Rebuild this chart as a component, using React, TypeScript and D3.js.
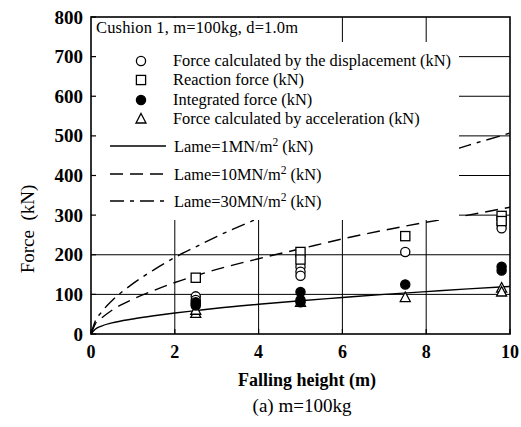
import React from "react";
import * as d3 from "d3";

// ---- data ----
const xTicks = [0, 2, 4, 6, 8, 10];
const yTicks = [0, 100, 200, 300, 400, 500, 600, 700, 800];

// measured points: [height m, force kN]
const dispForce: [number, number][] = [
  [2.5, 95], [2.5, 86], [5, 170], [5, 157], [5, 147], [7.5, 207], [9.8, 278], [9.8, 267],
];
const reactionForce: [number, number][] = [
  [2.5, 142], [5, 207], [5, 188], [7.5, 247], [9.8, 298], [9.8, 285],
];
const integratedForce: [number, number][] = [
  [2.5, 80], [2.5, 72], [2.5, 76], [5, 106], [5, 86], [5, 80], [7.5, 125], [9.8, 170], [9.8, 160],
];
const accelForce: [number, number][] = [
  [2.5, 52], [2.5, 60], [5, 80], [7.5, 92], [9.8, 116], [9.8, 106],
];

// Lame curves
const lameH = [0, 0.1, 0.25, 0.5, 1, 1.5, 2, 2.5, 3, 4, 5, 6, 7, 8, 9, 10];
const lame1 = [0, 12, 20, 28, 38, 46, 53, 59, 65, 75, 84, 92, 100, 107, 114, 120];
const lame10 = [0, 25, 40, 60, 88, 110, 130, 147, 163, 190, 215, 240, 262, 282, 300, 320];
const lame30 = [0, 32, 55, 84, 127, 162, 193, 220, 246, 292, 335, 374, 410, 443, 476, 507];

const legendTitle = "Cushion 1, m=100kg, d=1.0m";
const legendMarkers = [
  "Force calculated by the displacement (kN)",
  "Reaction force (kN)",
  "Integrated force (kN)",
  "Force calculated by acceleration (kN)",
];
const legendLines = ["1", "10", "30"];

const W = 521;
const H = 427;
const FONT = "'Liberation Serif', 'DejaVu Serif', serif";

export default function App() {
  const x = d3.scaleLinear().domain([0, 10]).range([91, 510]);
  const y = d3.scaleLinear().domain([0, 800]).range([334, 17]);

  const line = d3
    .line<number>()
    .x((_, i) => x(lameH[i]))
    .y((d) => y(d))
    .curve(d3.curveMonotoneX);

  const dashes = ["none", "13,7", "14,6,4,6"];
  const lames = [lame1, lame10, lame30];

  const circle = (cx: number, cy: number, k: string, fill: string) => (
    <circle key={k} cx={cx} cy={cy} r={4.6} fill={fill} stroke="#000" strokeWidth={1.3} />
  );
  const square = (cx: number, cy: number, k: string) => (
    <rect key={k} x={cx - 4.6} y={cy - 4.6} width={9.2} height={9.2} fill="#fff" stroke="#000" strokeWidth={1.3} />
  );
  const tri = (cx: number, cy: number, k: string) => (
    <path
      key={k}
      d={`M${cx},${cy - 5.5} L${cx + 5},${cy + 4} L${cx - 5},${cy + 4} Z`}
      fill="#fff"
      stroke="#000"
      strokeWidth={1.3}
    />
  );

  const [x0, x1] = x.range();
  const [yb, yt] = y.range();
  const legX0 = 92;
  const legX1 = 459;
  const legY0 = 42;
  const legY1 = 220;

  const rowY = [61, 80, 100, 119];
  const lineRowY = [146, 174, 201];

  return (
    <svg
      width={W}
      height={H}
      style={{ position: "absolute", left: 0, top: 0, background: "#fff" }}
      fontFamily={FONT}
    >
      <rect x={0} y={0} width={W} height={H} fill="#fff" />
      {/* grid */}
      <g stroke="#000" strokeWidth={1}>
        {yTicks.slice(1, -1).map((t) => (
          <line key={"gy" + t} x1={x0} x2={x1} y1={y(t)} y2={y(t)} />
        ))}
        {xTicks.slice(1, -1).map((t) => (
          <line key={"gx" + t} x1={x(t)} x2={x(t)} y1={yt} y2={yb} />
        ))}
      </g>
      {/* lame curves */}
      {lames.map((arr, i) => (
        <path
          key={"l" + i}
          d={line(arr) || ""}
          fill="none"
          stroke="#000"
          strokeWidth={1.4}
          strokeDasharray={dashes[i]}
        />
      ))}
      {/* legend background */}
      <rect x={legX0} y={legY0} width={legX1 - legX0} height={legY1 - legY0} fill="#fff" />
      <rect x={92} y={18} width={208} height={legY0 - 18} fill="#fff" />
      <text x={96} y={33} fontSize={16.5} textLength={202} lengthAdjust="spacing">
        {legendTitle}
      </text>
      {legendMarkers.map((t, i) => (
        <g key={"lm" + i}>
          {i === 0 && circle(141, rowY[i], "lc", "#fff")}
          {i === 1 && square(141, rowY[i], "ls")}
          {i === 2 && circle(141, rowY[i], "ld", "#000")}
          {i === 3 && tri(141, rowY[i], "lt")}
          <text x={173} y={rowY[i] + 5} fontSize={16.4}>
            {t}
          </text>
        </g>
      ))}
      {legendLines.map((t, i) => (
        <g key={"ll" + i}>
          <line
            x1={110}
            x2={166}
            y1={lineRowY[i]}
            y2={lineRowY[i]}
            stroke="#000"
            strokeWidth={1.4}
            strokeDasharray={dashes[i]}
          />
          <text x={174} y={lineRowY[i] + 6} fontSize={16.4}>
            {`Lame=${t}MN/m`}
            <tspan dy={-6} fontSize={11.5}>
              2
            </tspan>
            <tspan dy={6}> (kN)</tspan>
          </text>
        </g>
      ))}
      {/* markers */}
      {dispForce.map((d, i) => circle(x(d[0]), y(d[1]), "c" + i, "#fff"))}
      {reactionForce.map((d, i) => square(x(d[0]), y(d[1]), "s" + i))}
      {accelForce.map((d, i) => tri(x(d[0]), y(d[1]), "t" + i))}
      {integratedForce.map((d, i) => circle(x(d[0]), y(d[1]), "d" + i, "#000"))}
      {/* frame & ticks */}
      <rect x={x0} y={yt} width={x1 - x0} height={yb - yt} fill="none" stroke="#000" strokeWidth={1.6} />
      <g stroke="#000" strokeWidth={1.2}>
        {yTicks.map((t) => (
          <line key={"ty" + t} x1={x0} x2={x0 + 5} y1={y(t)} y2={y(t)} />
        ))}
        {xTicks.map((t) => (
          <line key={"tx" + t} x1={x(t)} x2={x(t)} y1={yb} y2={yb - 5} />
        ))}
      </g>
      {/* tick labels */}
      {yTicks.map((t) => (
        <text key={"yl" + t} x={83} y={y(t) + 6.5} fontSize={19} fontWeight="bold" textAnchor="end">
          {t}
        </text>
      ))}
      {xTicks.map((t) => (
        <text key={"xl" + t} x={x(t)} y={358} fontSize={18} fontWeight="bold" textAnchor="middle">
          {t}
        </text>
      ))}
      <text x={307} y={386} fontSize={18} fontWeight="bold" textAnchor="middle">
        Falling height (m)
      </text>
      <text x={302} y={412} fontSize={19} textAnchor="middle">
        (a) m=100kg
      </text>
      <text transform={`translate(34,229) rotate(-90)`} fontSize={19} textAnchor="middle">
        Force{"\u00a0\u00a0"}(kN)
      </text>
    </svg>
  );
}
